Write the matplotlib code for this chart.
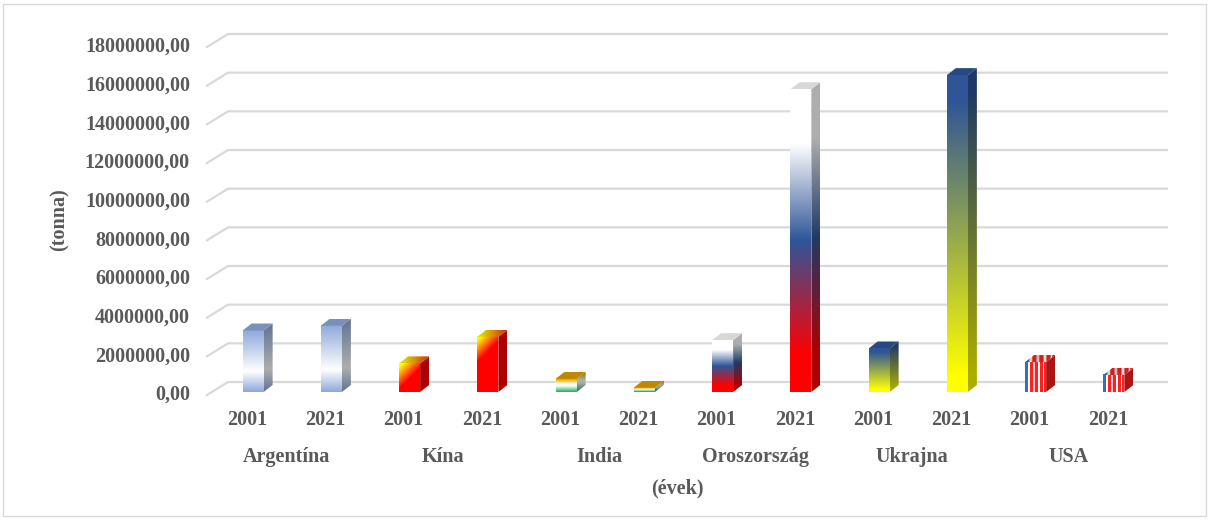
import numpy as np
import matplotlib
matplotlib.use('Agg')
import matplotlib.pyplot as plt
from matplotlib.patches import Polygon, Rectangle
from matplotlib.colors import to_rgb

countries = ['Argentína', 'Kína', 'India', 'Oroszország', 'Ukrajna', 'USA']
years = ['2001', '2021']
prod_2001 = [3180000, 1480000, 680000, 2680000, 2250000, 1550000]
prod_2021 = [3430000, 2860000, 230000, 15660000, 16390000, 880000]
yticks = np.arange(0, 18000001, 2000000)

W, H = 1210, 520
txt = '#595959'
font = dict(family='Liberation Serif', fontweight='bold', fontsize=14.5, color=txt)

fig = plt.figure(figsize=(W / 100, H / 100), dpi=100)
ax = fig.add_axes([214 / W, 128 / H, 939 / W, 348 / H])
ax.axis('off')

# pixel -> data helpers (fixed layout)
px_x = 939 / 12
px_y = 348 / 18e6
def dx(p):
    return p / px_x
def dy(p):
    return p / px_y


def stops_col(stops, n):
    # vertical gradient, row 0 = bottom
    pos = [s[0] for s in stops]
    cols = np.array([to_rgb(s[1]) for s in stops])
    t = np.linspace(0, 1, n)
    return np.stack([np.interp(t, pos, cols[:, k]) for k in range(3)], axis=-1)


def front_image(country, hpx, nx=21):
    ny = max(int(round(hpx)), 2)
    if country == 'Kína':
        i = np.arange(nx)[None, :]
        j = (ny - 1 - np.arange(ny))[:, None]  # distance from top
        t = np.clip(((i + j) - 3) / 22, 0, 1)[..., None]
        y, r = np.array(to_rgb('#ffff00')), np.array(to_rgb('#ff0000'))
        return y * (1 - t) + r * t
    if country == 'USA':
        cols = (['#2e75b6'] * 3 + ['#ffffff'] * 2 + ['#ff2020'] * 3 + ['#ffd0d0'] * 2
                + ['#ff2020'] * 3 + ['#ffffff'] * 2 + ['#ff2020'] * 3 + ['#ffffff'] * 1
                + ['#ff2020'] * 2)
        row = np.array([to_rgb(c) for c in cols])
        return np.repeat(row[None, :, :], ny, axis=0)
    stops = {
        'Argentína': [(0, '#8eaadb'), (0.33, '#ffffff'), (1, '#8eaadb')],
        'India': [(0, '#30b060'), (0.25, '#a0e0b8'), (0.45, '#ffffff'), (0.6, '#ffffff'),
                  (0.8, '#f8c840'), (1, '#e0a000')],
        'Oroszország': [(0, '#ff0000'), (0.12, '#ff0000'), (0.5, '#2f5597'), (0.82, '#ffffff'),
                        (1, '#ffffff')],
        'Ukrajna': [(0, '#ffff00'), (0.05, '#ffff00'), (0.92, '#2f5597'), (1, '#2f5597')],
    }[country]
    col = stops_col(stops, ny)
    return np.repeat(col[:, None, :], nx, axis=1)


# gridlines with a 3D back wall
for v in yticks:
    xs = [-0.5 + dx(-7), -0.5 + dx(14), 11.5 + dx(14)]
    ys = [v + dy(-3), v + dy(10), v + dy(10)]
    ax.plot(xs, ys, color='#d9d9d9', lw=1.6, clip_on=False, zorder=1)
    ax.text(-0.5 + dx(-24), v + dy(-3), f'{int(v)},00', ha='right', va='center', **font)

vals = [p for pair in zip(prod_2001, prod_2021) for p in pair]
labels = [y for _ in countries for y in years]
owner = [c for c in countries for _ in years]
x = np.arange(len(vals))
bw = dx(21)
ddx, ddy = dx(9), dy(7)

for xi, h, c in zip(x, vals, owner):
    xl, xr = xi - bw / 2, xi + bw / 2
    img = front_image(c, h * px_y)
    ax.imshow(img, extent=(xl, xr, 0, h), origin='lower', aspect='auto',
              interpolation='bilinear', zorder=3)
    # side face
    side = img[:, -1:, :] * 0.68
    poly = Polygon([(xr, 0), (xr + ddx, ddy), (xr + ddx, h + ddy), (xr, h)],
                   closed=True, transform=ax.transData)
    im = ax.imshow(side, extent=(xr, xr + ddx, 0, h + ddy), origin='lower', aspect='auto',
                   interpolation='bilinear', zorder=3)
    im.set_clip_path(poly)
    # top face
    top = img[-1:, :, :] * 0.85
    poly = Polygon([(xl, h), (xr, h), (xr + ddx, h + ddy), (xl + ddx, h + ddy)],
                   closed=True, transform=ax.transData)
    im = ax.imshow(top, extent=(xl, xr + ddx, h, h + ddy), origin='lower', aspect='auto',
                   interpolation='bilinear', zorder=3)
    im.set_clip_path(poly)

ax.set_xlim(-0.5, 11.5)
ax.set_ylim(0, 18e6)

tr = ax.get_xaxis_transform()
for xi, lab in zip(x, labels):
    ax.text(xi + dx(-6), (392 - 420) / 348, lab, transform=tr, ha='center', va='center', **font)
for k, c in enumerate(countries):
    ax.text(2 * k + 0.5 + dx(-6), (392 - 457) / 348, c, transform=tr, ha='center', va='center', **font)
ax.text(5.5 + dx(-6), (392 - 488) / 348, '(évek)', transform=tr, ha='center', va='center', **font)
fig.text(60 / W, 1 - 220 / H, '(tonna)', rotation=90, ha='center', va='center', **font)

fig.patches.append(Rectangle((3 / W, 4 / H), 1203 / W, 512 / H, transform=fig.transFigure,
                             fill=False, ec='#d9d9d9', lw=1))

fig.savefig('out.png', dpi=100, facecolor='white')
